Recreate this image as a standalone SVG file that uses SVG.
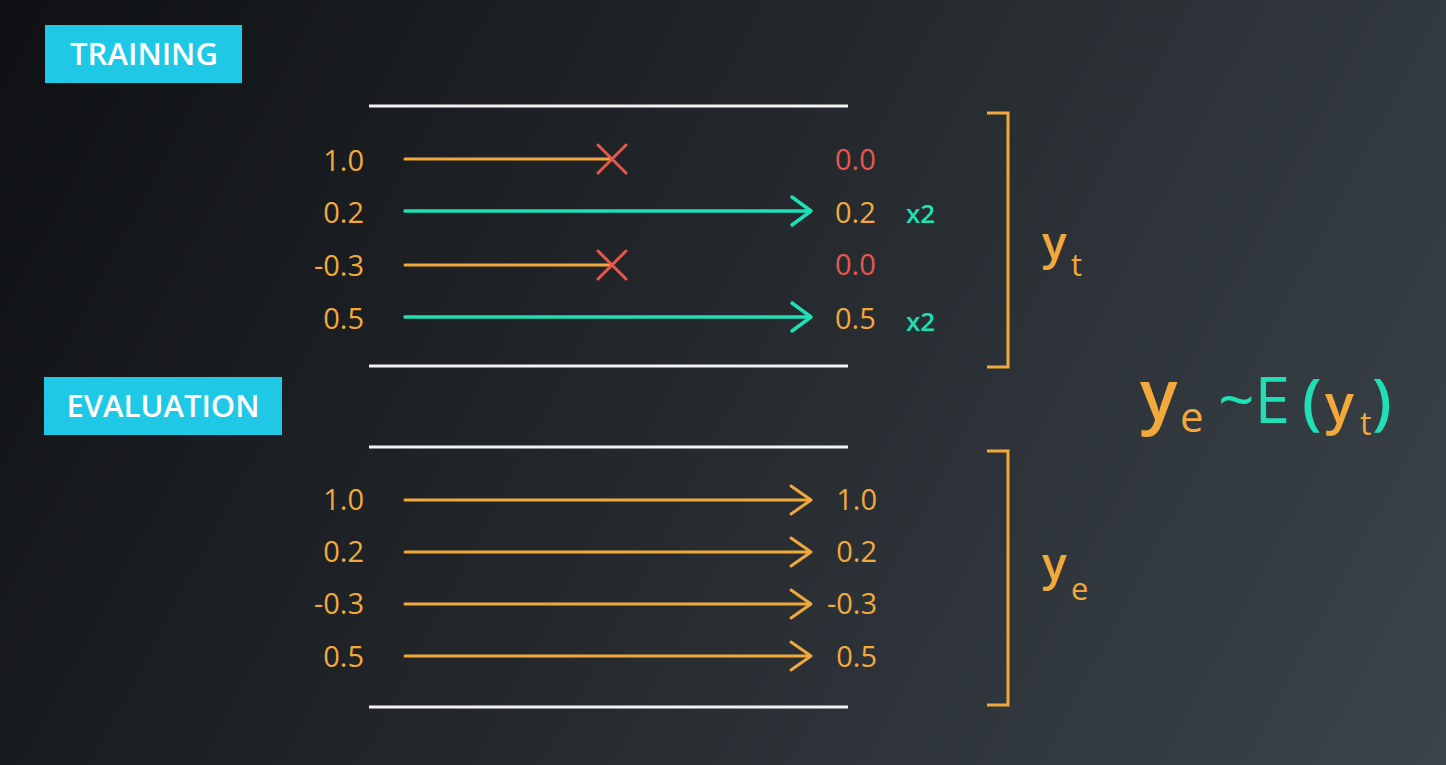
<svg xmlns="http://www.w3.org/2000/svg" width="1446" height="765" viewBox="0 0 1446 765">
<defs>
<linearGradient id="bg" x1="0" y1="0" x2="1446" y2="765" gradientUnits="userSpaceOnUse">
<stop offset="0" stop-color="#0e1013"/>
<stop offset="0.45" stop-color="#23272b"/>
<stop offset="1" stop-color="#3b444b"/>
</linearGradient>
<style>
text{font-family:"Open Sans","Noto Sans","Liberation Sans",sans-serif;font-weight:500}
.tag{fill:#1fc8e4}
.tagt{fill:#ffffff;font-size:31px;font-weight:600;text-anchor:middle}
.rule{stroke:#f2f2f2;stroke-width:3;fill:none}
.o{fill:#f2a93b}
.tl{fill:#1fdfb6}
.r{fill:#e8574b}
.num{font-size:29px}
.lft{text-anchor:end}
.lo{stroke:#f2a93b;stroke-width:3;fill:none;stroke-linecap:round;stroke-linejoin:round}
.lt{stroke:#1fdfb6;stroke-width:3.5;fill:none;stroke-linecap:round;stroke-linejoin:round}
.x{stroke:#e8574b;stroke-width:3;fill:none;stroke-linecap:round}
.br{stroke:#f2a93b;stroke-width:3;fill:none}
.b{font-weight:600}
</style>
</defs>
<rect width="1446" height="765" fill="url(#bg)"/>

<g id="training-tag">
<rect class="tag" x="45" y="25" width="197" height="58"/>
<text class="tagt" x="144" y="65">TRAINING</text>
</g>
<g id="evaluation-tag">
<rect class="tag" x="44" y="377" width="238" height="58"/>
<text class="tagt" x="163" y="417">EVALUATION</text>
</g>

<g id="rules">
<line class="rule" x1="369" y1="106" x2="848" y2="106"/>
<line class="rule" x1="369" y1="366" x2="848" y2="366"/>
<line class="rule" x1="369" y1="447" x2="848" y2="447"/>
<line class="rule" x1="369" y1="707" x2="848" y2="707"/>
</g>

<g id="training-inputs" class="num">
<text class="o lft" x="364" y="171">1.0</text>
<text class="o lft" x="364" y="223">0.2</text>
<text class="o lft" x="364" y="276">-0.3</text>
<text class="o lft" x="364" y="329">0.5</text>
</g>
<g id="training-outputs" class="num">
<text class="r" x="835" y="170">0.0</text>
<text class="o" x="835" y="223">0.2</text>
<text class="r" x="835" y="275">0.0</text>
<text class="o" x="835" y="329">0.5</text>
<text class="tl b" x="906" y="223" font-size="26">x2</text>
<text class="tl b" x="906" y="331" font-size="26">x2</text>
</g>

<g id="connectors">
<line class="lo" x1="405" y1="159" x2="610" y2="159"/>
<path class="x" d="M598 145 L626 173 M626 145 L598 173"/>
<line class="lt" x1="405" y1="211" x2="810" y2="211"/>
<path class="lt" d="M792 197 L811 211 L792 225"/>
<line class="lo" x1="405" y1="265" x2="610" y2="265"/>
<path class="x" d="M598 251 L626 279 M626 251 L598 279"/>
<line class="lt" x1="405" y1="317" x2="810" y2="317"/>
<path class="lt" d="M792 303 L811 317 L792 331"/>

<line class="lo" x1="405" y1="500" x2="810" y2="500"/>
<path class="lo" d="M791 486 L811 500 L791 514"/>
<line class="lo" x1="405" y1="552" x2="810" y2="552"/>
<path class="lo" d="M791 538 L811 552 L791 566"/>
<line class="lo" x1="405" y1="604" x2="810" y2="604"/>
<path class="lo" d="M791 590 L811 604 L791 618"/>
<line class="lo" x1="405" y1="656" x2="810" y2="656"/>
<path class="lo" d="M791 642 L811 656 L791 670"/>
</g>

<g id="eval-inputs" class="num">
<text class="o lft" x="364" y="510">1.0</text>
<text class="o lft" x="364" y="562">0.2</text>
<text class="o lft" x="364" y="614">-0.3</text>
<text class="o lft" x="364" y="667">0.5</text>
</g>
<g id="eval-outputs" class="num">
<text class="o lft" x="877" y="510">1.0</text>
<text class="o lft" x="877" y="562">0.2</text>
<text class="o lft" x="877" y="614">-0.3</text>
<text class="o lft" x="877" y="667">0.5</text>
</g>

<g id="bracket-yt">
<path class="br" d="M987 113 H1008 V367 H987"/>
<text class="o b" x="1042" y="259" font-size="46">y</text>
<text class="o" x="1071" y="276" font-size="31">t</text>
</g>
<g id="bracket-ye">
<path class="br" d="M987 451 H1008 V705 H987"/>
<text class="o b" x="1042" y="580" font-size="46">y</text>
<text class="o" x="1071" y="600" font-size="31">e</text>
</g>

<g id="formula">
<text class="o b" x="1140" y="420" font-size="70">y</text>
<text class="o" x="1180" y="432" font-size="42">e</text>
<text class="tl" x="1218" y="423" font-size="64">~E</text>
<text class="tl b" x="1302" y="423" font-size="62">(</text>
<text class="o b" x="1325" y="423" font-size="54">y</text>
<text class="o" x="1360" y="435" font-size="32">t</text>
<text class="tl b" x="1372" y="423" font-size="62">)</text>
</g>
</svg>
